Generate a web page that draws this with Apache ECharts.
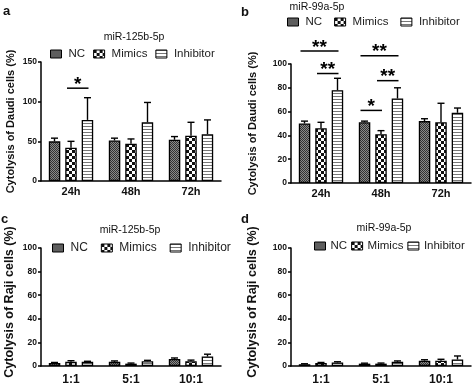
<!DOCTYPE html>
<html>
<head>
<meta charset="utf-8">
<script src="https://cdn.jsdelivr.net/npm/echarts@6/dist/echarts.min.js"></script>
<style>html,body{margin:0;padding:0;background:#fff}#main{width:474px;height:386px}</style>
</head>
<body>
<div id="main"></div>
<script>
// ---- data ----
const seriesNames = ['NC', 'Mimics', 'Inhibitor'];
const timeCategories = ['24h', '48h', '72h'];
const ratioCategories = ['1:1', '5:1', '10:1'];

// panel a: miR-125b-5p, Daudi
const aNC = [50, 51, 52];        const aNCErr = [4, 3, 4];
const aMimics = [42, 47, 57];    const aMimicsErr = [8, 6, 17];
const aInhibitor = [77, 74, 59]; const aInhibitorErr = [28, 25, 18];
// panel b: miR-99a-5p, Daudi
const bNC = [50, 51, 52];        const bNCErr = [2, 1, 2];
const bMimics = [46, 41, 51];    const bMimicsErr = [5, 3, 16];
const bInhibitor = [78, 71, 59]; const bInhibitorErr = [10, 9, 4];
// panel c: miR-125b-5p, Raji
const cNC = [2.5, 3.5, 6];       const cNCErr = [0.5, 0.8, 0.8];
const cMimics = [3.5, 2, 4];     const cMimicsErr = [1, 0.5, 1];
const cInhibitor = [3.5, 4, 8];  const cInhibitorErr = [0.5, 0.8, 2];
// panel d: miR-99a-5p, Raji
const dNC = [1.5, 2, 4.5];       const dNCErr = [0.4, 0.4, 0.8];
const dMimics = [2.5, 2, 4.5];   const dMimicsErr = [0.5, 0.5, 1.2];
const dInhibitor = [3, 3.5, 5.5];const dInhibitorErr = [0.6, 0.8, 3];

// significance brackets: [category index, from bar, to bar, y value]
const aSig = [[0, 1, 2, 117]];
const aSigText = ['*'];
const bSig = [[0, 0, 2, 111], [0, 1, 2, 92], [1, 0, 2, 107], [1, 1, 2, 86], [1, 0, 1, 61]];
const bSigText = ['**', '**', '**', '**', '*'];

const yTicksA = [0, 50, 100, 150];
const yTicksOther = [0, 20, 40, 60, 80, 100];

// ---- styles ----
const FONT = 'Liberation Sans, Arial, sans-serif';
const BAR_W = 11.5;
const BAR_STEP = 16.5;

function pattern(kind) {
  const c = document.createElement('canvas');
  const ctx = c.getContext('2d');
  if (kind === 'nc') {
    c.width = 2; c.height = 2;
    ctx.fillStyle = '#8a8a8a'; ctx.fillRect(0, 0, 2, 2);
    ctx.fillStyle = '#333333'; ctx.fillRect(0, 0, 1, 1); ctx.fillRect(1, 1, 1, 1);
  } else if (kind === 'mim') {
    c.width = 6; c.height = 6;
    ctx.fillStyle = '#ffffff'; ctx.fillRect(0, 0, 6, 6);
    ctx.fillStyle = '#111111'; ctx.fillRect(0, 0, 3, 3); ctx.fillRect(3, 3, 3, 3);
  } else {
    c.width = 3; c.height = 3;
    ctx.fillStyle = '#ffffff'; ctx.fillRect(0, 0, 3, 3);
    ctx.fillStyle = '#777777'; ctx.fillRect(0, 0, 3, 1);
  }
  return { image: c, repeat: 'repeat' };
}
const fills = [pattern('nc'), pattern('mim'), pattern('inh')];

const grids = [
  { left: 41, top: 62, width: 180, height: 119 },
  { left: 291, top: 64, width: 180, height: 119 },
  { left: 41, top: 248, width: 180, height: 119 },
  { left: 291, top: 248, width: 180, height: 119 }
];

function xAxis(gi, cats, fs, margin) {
  return {
    type: 'category', gridIndex: gi, data: cats,
    axisLine: { lineStyle: { color: '#000', width: 1.5 } },
    axisTick: { alignWithLabel: true, length: 3, lineStyle: { color: '#000', width: 1.5 } },
    axisLabel: { color: '#111', fontWeight: 'bold', fontSize: fs, fontFamily: FONT, margin: margin }
  };
}
function yAxis(gi, ticks, name, fs, gap, shift) {
  return {
    type: 'value', gridIndex: gi, min: ticks[0], max: ticks[ticks.length - 1],
    interval: ticks[1] - ticks[0],
    name: name, nameLocation: 'middle', nameGap: gap,
    nameTextStyle: { color: '#111', fontWeight: 'bold', fontSize: fs, fontFamily: FONT, padding: [0, 0, 0, shift] },
    axisLine: { show: true, lineStyle: { color: '#000', width: 1.5 } },
    axisTick: { show: true, length: 3, lineStyle: { color: '#000', width: 1.5 } },
    axisLabel: { color: '#111', fontWeight: 'bold', fontSize: 8.5, fontFamily: FONT, margin: 4 },
    splitLine: { show: false }
  };
}

const series = [];
function addPanel(gi, vals, errs, sig, sigText) {
  vals.forEach((v, si) => {
    series.push({
      type: 'bar', name: seriesNames[si], xAxisIndex: gi, yAxisIndex: gi,
      data: v, barWidth: BAR_W, barGap: '43%',
      itemStyle: { color: fills[si], borderColor: '#000', borderWidth: 1.3 },
      emphasis: { disabled: true }, animation: false
    });
  });
  const errData = [];
  vals.forEach((v, si) => v.forEach((val, ci) => errData.push([ci, val, errs[si][ci], si])));
  series.push({
    type: 'custom', xAxisIndex: gi, yAxisIndex: gi, data: errData, z: 5,
    encode: { x: 0, y: 1 }, animation: false, silent: true,
    renderItem: function (params, api) {
      const ci = api.value(0), val = api.value(1), err = api.value(2), si = api.value(3);
      const p0 = api.coord([ci, val]);
      const p1 = api.coord([ci, val + err]);
      const x = p0[0] + (si - 1) * BAR_STEP;
      return {
        type: 'group', children: [
          { type: 'line', shape: { x1: x, y1: p0[1], x2: x, y2: p1[1] }, style: { stroke: '#000', lineWidth: 1.4 } },
          { type: 'line', shape: { x1: x - 3.5, y1: p1[1], x2: x + 3.5, y2: p1[1] }, style: { stroke: '#000', lineWidth: 1.4 } }
        ]
      };
    }
  });
  if (sig) {
    series.push({
      type: 'custom', xAxisIndex: gi, yAxisIndex: gi, data: sig, z: 6,
      encode: { x: 0, y: 3 }, animation: false, silent: true, clip: false,
      renderItem: function (params, api) {
        const ci = api.value(0), from = api.value(1), to = api.value(2), yv = api.value(3);
        const p = api.coord([ci, yv]);
        const x1 = p[0] + (from - 1) * BAR_STEP - 4;
        const x2 = p[0] + (to - 1) * BAR_STEP + 1;
        return {
          type: 'group', children: [
            { type: 'line', shape: { x1: x1, y1: p[1], x2: x2, y2: p[1] }, style: { stroke: '#000', lineWidth: 1.5 } },
            { type: 'text', style: { x: (x1 + x2) / 2, y: p[1] + 6, text: sigText[params.dataIndex], align: 'center', verticalAlign: 'bottom', font: 'bold 19px ' + FONT, fill: '#000' } }
          ]
        };
      }
    });
  }
}
addPanel(0, [aNC, aMimics, aInhibitor], [aNCErr, aMimicsErr, aInhibitorErr], aSig, aSigText);
addPanel(1, [bNC, bMimics, bInhibitor], [bNCErr, bMimicsErr, bInhibitorErr], bSig, bSigText);
addPanel(2, [cNC, cMimics, cInhibitor], [cNCErr, cMimicsErr, cInhibitorErr]);
addPanel(3, [dNC, dMimics, dInhibitor], [dNCErr, dMimicsErr, dInhibitorErr]);

function legend(left, top, gap, fs, tpad) {
  return {
    left: left, top: top, width: 400, padding: 0, icon: 'rect', itemWidth: 11, itemHeight: 8, itemGap: gap, data: seriesNames,
    selectedMode: false,
    textStyle: { color: '#222', fontSize: fs, fontFamily: FONT, padding: [0, 0, 0, tpad] },
    itemStyle: { borderColor: '#000', borderWidth: 1 }
  };
}
function label(text, x, y, font) {
  return { type: 'text', x: x, y: y, style: { text: text, font: font, fill: '#111', align: text.length > 1 ? 'center' : 'left', verticalAlign: 'middle' } };
}

const chart = echarts.init(document.getElementById('main'), null, { renderer: 'canvas' });
chart.setOption({
  animation: false,
  grid: grids,
  xAxis: [xAxis(0, timeCategories, 11, 5), xAxis(1, timeCategories, 11, 5), xAxis(2, ratioCategories, 12, 8), xAxis(3, ratioCategories, 12, 8)],
  yAxis: [
    yAxis(0, yTicksA, 'Cytolysis of Daudi cells (%)', 11, 25, 0),
    yAxis(1, yTicksOther, 'Cytolysis of Daudi cells (%)', 11, 33, 0),
    yAxis(2, yTicksOther, 'Cytolysis of Raji cells (%)', 12.5, 25, 10),
    yAxis(3, yTicksOther, 'Cytolysis of Raji cells (%)', 12.5, 32, 10)
  ],
  legend: [legend(50, 48, 8, 11.5, 2), legend(287, 16, 12, 11.5, 2), legend(52, 242, 13, 12, 2), legend(314, 240, 4, 11.5, 0)],
  graphic: [
    label('a', 3, 11, 'bold 13px ' + FONT),
    label('b', 241, 12, 'bold 13px ' + FONT),
    label('c', 1, 219, 'bold 13px ' + FONT),
    label('d', 241, 219, 'bold 13px ' + FONT),
    label('miR-125b-5p', 134, 37, '10.5px ' + FONT),
    label('miR-99a-5p', 317, 7, '10.5px ' + FONT),
    label('miR-125b-5p', 130, 230, '10.5px ' + FONT),
    label('miR-99a-5p', 384, 228, '10.5px ' + FONT)
  ],
  series: series
});
</script>
</body>
</html>
